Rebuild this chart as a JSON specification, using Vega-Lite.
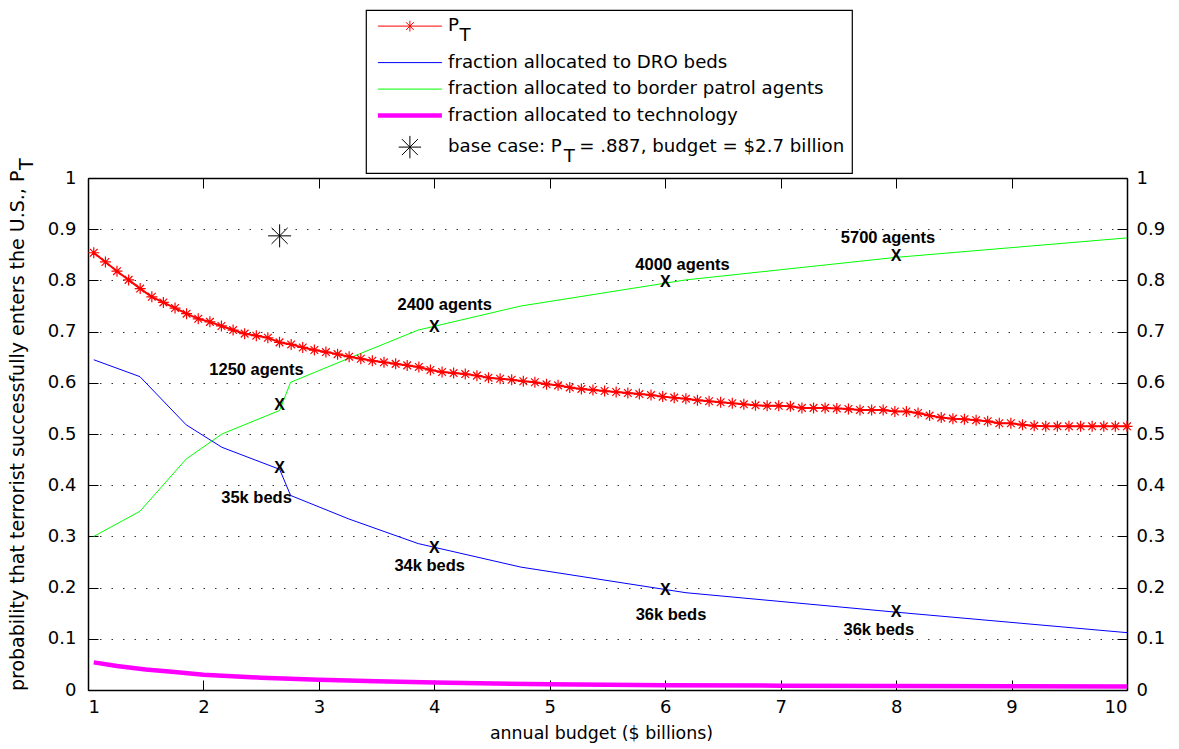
{
  "$schema": "https://vega.github.io/schema/vega-lite/v6.json",
  "width": 1039,
  "height": 512,
  "autosize": {"type": "none"},
  "padding": {"left": 88, "top": 178, "right": 52, "bottom": 59},
  "background": "white",
  "config": {
    "view": {"stroke": null},
    "font": "DejaVu Sans",
    "axis": {
      "labelFont": "DejaVu Sans",
      "labelFontSize": 18,
      "labelColor": "black",
      "titleFont": "DejaVu Sans",
      "titleFontSize": 18,
      "titleFontWeight": "normal",
      "titleColor": "black",
      "domainColor": "black",
      "domainWidth": 1.5,
      "tickColor": "black",
      "tickWidth": 1,
      "tickSize": -10,
      "grid": false
    }
  },
  "datasets": {
    "pt": [
      {"budget": 1.050, "value": 0.854}, {"budget": 1.151, "value": 0.836}, {"budget": 1.251, "value": 0.818},
      {"budget": 1.352, "value": 0.801}, {"budget": 1.452, "value": 0.784}, {"budget": 1.553, "value": 0.768},
      {"budget": 1.653, "value": 0.757}, {"budget": 1.754, "value": 0.746}, {"budget": 1.854, "value": 0.735},
      {"budget": 1.955, "value": 0.725}, {"budget": 2.056, "value": 0.719}, {"budget": 2.156, "value": 0.711},
      {"budget": 2.257, "value": 0.703}, {"budget": 2.357, "value": 0.696}, {"budget": 2.458, "value": 0.692},
      {"budget": 2.558, "value": 0.688}, {"budget": 2.659, "value": 0.679}, {"budget": 2.760, "value": 0.675},
      {"budget": 2.860, "value": 0.669}, {"budget": 2.961, "value": 0.664}, {"budget": 3.061, "value": 0.660},
      {"budget": 3.162, "value": 0.656}, {"budget": 3.262, "value": 0.651}, {"budget": 3.363, "value": 0.647},
      {"budget": 3.463, "value": 0.643}, {"budget": 3.564, "value": 0.640}, {"budget": 3.665, "value": 0.637},
      {"budget": 3.765, "value": 0.634}, {"budget": 3.866, "value": 0.631}, {"budget": 3.966, "value": 0.625},
      {"budget": 4.067, "value": 0.621}, {"budget": 4.167, "value": 0.619}, {"budget": 4.268, "value": 0.617},
      {"budget": 4.369, "value": 0.614}, {"budget": 4.469, "value": 0.610}, {"budget": 4.570, "value": 0.608},
      {"budget": 4.670, "value": 0.606}, {"budget": 4.771, "value": 0.603}, {"budget": 4.871, "value": 0.601},
      {"budget": 4.972, "value": 0.597}, {"budget": 5.072, "value": 0.595}, {"budget": 5.173, "value": 0.591},
      {"budget": 5.274, "value": 0.588}, {"budget": 5.374, "value": 0.586}, {"budget": 5.475, "value": 0.584},
      {"budget": 5.575, "value": 0.582}, {"budget": 5.676, "value": 0.580}, {"budget": 5.776, "value": 0.578},
      {"budget": 5.877, "value": 0.576}, {"budget": 5.978, "value": 0.573}, {"budget": 6.078, "value": 0.571},
      {"budget": 6.179, "value": 0.569}, {"budget": 6.279, "value": 0.566}, {"budget": 6.380, "value": 0.564},
      {"budget": 6.480, "value": 0.562}, {"budget": 6.581, "value": 0.560}, {"budget": 6.681, "value": 0.558},
      {"budget": 6.782, "value": 0.556}, {"budget": 6.883, "value": 0.555}, {"budget": 6.983, "value": 0.555},
      {"budget": 7.084, "value": 0.554}, {"budget": 7.184, "value": 0.551}, {"budget": 7.285, "value": 0.551},
      {"budget": 7.385, "value": 0.551}, {"budget": 7.486, "value": 0.550}, {"budget": 7.587, "value": 0.549},
      {"budget": 7.687, "value": 0.547}, {"budget": 7.788, "value": 0.547}, {"budget": 7.888, "value": 0.547},
      {"budget": 7.989, "value": 0.544}, {"budget": 8.089, "value": 0.544}, {"budget": 8.190, "value": 0.541},
      {"budget": 8.290, "value": 0.536}, {"budget": 8.391, "value": 0.532}, {"budget": 8.492, "value": 0.530},
      {"budget": 8.592, "value": 0.529}, {"budget": 8.693, "value": 0.527}, {"budget": 8.793, "value": 0.525},
      {"budget": 8.894, "value": 0.521}, {"budget": 8.994, "value": 0.521}, {"budget": 9.095, "value": 0.518},
      {"budget": 9.196, "value": 0.516}, {"budget": 9.296, "value": 0.515}, {"budget": 9.397, "value": 0.515},
      {"budget": 9.497, "value": 0.515}, {"budget": 9.598, "value": 0.515}, {"budget": 9.698, "value": 0.515},
      {"budget": 9.799, "value": 0.515}, {"budget": 9.899, "value": 0.515}, {"budget": 10.000, "value": 0.515}
    ],
    "dro": [
      {"budget": 1.05, "value": 0.645}, {"budget": 1.45, "value": 0.612}, {"budget": 1.85, "value": 0.518},
      {"budget": 2.16, "value": 0.474}, {"budget": 2.66, "value": 0.431}, {"budget": 2.755, "value": 0.380},
      {"budget": 3.26, "value": 0.334}, {"budget": 3.86, "value": 0.286}, {"budget": 4.75, "value": 0.240},
      {"budget": 6.18, "value": 0.190}, {"budget": 8.0, "value": 0.152}, {"budget": 10.0, "value": 0.112}
    ],
    "agents": [
      {"budget": 1.05, "value": 0.300}, {"budget": 1.45, "value": 0.349}, {"budget": 1.85, "value": 0.451},
      {"budget": 2.16, "value": 0.500}, {"budget": 2.66, "value": 0.546}, {"budget": 2.755, "value": 0.601},
      {"budget": 3.26, "value": 0.648}, {"budget": 3.86, "value": 0.703}, {"budget": 4.75, "value": 0.750},
      {"budget": 6.18, "value": 0.801}, {"budget": 8.0, "value": 0.845}, {"budget": 10.0, "value": 0.883}
    ],
    "tech": [
      {"budget": 1.05, "value": 0.054}, {"budget": 1.25, "value": 0.047}, {"budget": 1.5, "value": 0.040},
      {"budget": 1.75, "value": 0.035}, {"budget": 2.0, "value": 0.030}, {"budget": 2.5, "value": 0.024},
      {"budget": 3.0, "value": 0.020}, {"budget": 3.5, "value": 0.017}, {"budget": 4.0, "value": 0.0145},
      {"budget": 5.0, "value": 0.011}, {"budget": 6.0, "value": 0.0095}, {"budget": 7.0, "value": 0.0085},
      {"budget": 8.0, "value": 0.0078}, {"budget": 9.0, "value": 0.0072}, {"budget": 10.0, "value": 0.0068}
    ],
    "base": [
      {"budget": 2.66, "value": 0.887}
    ],
    "crosses": [
      {"budget": 2.66, "value": 0.557}, {"budget": 4.0, "value": 0.709}, {"budget": 6.0, "value": 0.796},
      {"budget": 8.0, "value": 0.848}, {"budget": 2.66, "value": 0.433}, {"budget": 4.0, "value": 0.278},
      {"budget": 6.0, "value": 0.196}, {"budget": 8.0, "value": 0.152}
    ],
    "notes": [
      {"budget": 2.46, "value": 0.625, "note": "1250 agents"},
      {"budget": 4.09, "value": 0.752, "note": "2400 agents"},
      {"budget": 6.15, "value": 0.830, "note": "4000 agents"},
      {"budget": 7.93, "value": 0.882, "note": "5700 agents"},
      {"budget": 2.46, "value": 0.375, "note": "35k beds"},
      {"budget": 3.96, "value": 0.242, "note": "34k beds"},
      {"budget": 6.05, "value": 0.147, "note": "36k beds"},
      {"budget": 7.85, "value": 0.118, "note": "36k beds"}
    ]
  },
  "resolve": {"axis": {"x": "independent", "y": "independent"}},
  "layer": [
    {
      "data": {"name": "tech"},
      "mark": {"type": "line", "strokeWidth": 4.5},
      "encoding": {
        "x": {
          "field": "budget", "type": "quantitative",
          "scale": {"domain": [1, 10], "nice": false, "zero": false},
          "axis": {
            "orient": "bottom", "values": [1, 2, 3, 4, 5, 6, 7, 8, 9, 10], "format": "d",
            "title": "annual budget ($ billions)", "titleFontSize": 17.4,
            "labelPadding": 18, "titlePadding": 8, "titleX": 513
          }
        },
        "y": {
          "field": "value", "type": "quantitative",
          "scale": {"domain": [0, 1], "nice": false, "zero": false},
          "axis": {
            "orient": "left", "values": [0, 0.1, 0.2, 0.3, 0.4, 0.5, 0.6, 0.7, 0.8, 0.9, 1], "format": "~g",
            "grid": true, "gridDash": [1.5, 10], "gridColor": "#333", "gridWidth": 1,
            "labelPadding": 22,
            "title": ["probability that terrorist successfully enters the U.S., P\u00a0\u00a0\u200b", "T"],
            "titleFontSize": 19,
            "titleAlign": "right", "titleAngle": -90, "titleBaseline": "alphabetic",
            "titleX": -65, "titleY": -20, "titleLineHeight": 9
          }
        },
        "color": {
          "datum": "tech", "type": "nominal",
          "scale": {
            "domain": ["PT", "DRO", "agents", "tech", "base"],
            "range": ["#ff0000", "#0000ff", "#00ff00", "#ff00ff", "#000000"]
          },
          "legend": {
            "title": null, "orient": "none", "legendX": 278, "legendY": -168,
            "direction": "vertical", "columns": 1,
            "fillColor": "white", "strokeColor": "black", "padding": 7,
            "symbolSize": 4096, "symbolOffset": 27.8, "symbolStrokeWidth": 1, "symbolType": "M-1,0H1",
            "labelFont": "DejaVu Sans", "labelFontSize": 18.2, "labelColor": "black",
            "labelOffset": 29, "labelLimit": 600, "rowPadding": 7.5,
            "labelExpr": "datum.value == 'PT' ? ['P', '\u200b\u00a0\u00a0T'] : datum.value == 'DRO' ? 'fraction allocated to DRO beds' : datum.value == 'agents' ? 'fraction allocated to border patrol agents' : datum.value == 'tech' ? 'fraction allocated to technology' : ['base case: P\u00a0\u00a0 = .887, budget = $2.7 billion', '\u200b\u00a0\u00a0\u00a0\u00a0\u00a0\u00a0\u00a0\u00a0\u00a0\u00a0\u00a0\u00a0\u00a0\u00a0\u00a0\u00a0\u00a0\u00a0\u00a0\u00a0T']",
            "encode": {
              "symbols": {
                "update": {
                  "shape": {"signal": "datum.value == 'PT' ? 'M-1,0H1M0,-0.17V0.17M-0.12,-0.12L0.12,0.12M-0.12,0.12L0.12,-0.12' : datum.value == 'base' ? 'M-0.35,0H0.35M0,-0.35V0.35M-0.25,-0.25L0.25,0.25M-0.25,0.25L0.25,-0.25' : 'M-1,0H1'"},
                  "strokeWidth": {"signal": "datum.value == 'tech' ? 4.5 : 1"},
                  "fill": {"value": "transparent"},
                  "stroke": {"scale": "color", "field": "value"},
                  "opacity": {"value": 1}
                }
              },
              "labels": {"update": {"lineHeight": {"value": 10}}},
              "legend": {"update": {"strokeWidth": {"value": 1.2}}}
            }
          }
        }
      }
    },
    {
      "data": {"name": "dro"},
      "mark": {"type": "line", "strokeWidth": 1},
      "encoding": {
        "x": {
          "field": "budget", "type": "quantitative",
          "axis": {"orient": "top", "values": [1, 2, 3, 4, 5, 6, 7, 8, 9, 10], "labels": false, "title": null}
        },
        "y": {
          "field": "value", "type": "quantitative",
          "axis": {
            "orient": "right", "values": [0, 0.1, 0.2, 0.3, 0.4, 0.5, 0.6, 0.7, 0.8, 0.9, 1], "format": "~g",
            "labelPadding": 19, "title": null
          }
        },
        "color": {"datum": "DRO", "type": "nominal"}
      }
    },
    {
      "data": {"name": "agents"},
      "mark": {"type": "line", "strokeWidth": 1},
      "encoding": {
        "x": {"field": "budget", "type": "quantitative", "axis": null},
        "y": {"field": "value", "type": "quantitative", "axis": null},
        "color": {"datum": "agents", "type": "nominal"}
      }
    },
    {
      "data": {"name": "pt"},
      "mark": {"type": "line", "strokeWidth": 2},
      "encoding": {
        "x": {"field": "budget", "type": "quantitative", "axis": null},
        "y": {"field": "value", "type": "quantitative", "axis": null},
        "color": {"datum": "PT", "type": "nominal"}
      }
    },
    {
      "data": {"name": "pt"},
      "mark": {
        "type": "point", "shape": "M-1,0H1M0,-1V1M-0.7,-0.7L0.7,0.7M-0.7,0.7L0.7,-0.7",
        "size": 121, "filled": false, "strokeWidth": 1.2, "opacity": 1
      },
      "encoding": {
        "x": {"field": "budget", "type": "quantitative", "axis": null},
        "y": {"field": "value", "type": "quantitative", "axis": null},
        "color": {"datum": "PT", "type": "nominal"}
      }
    },
    {
      "data": {"name": "base"},
      "mark": {
        "type": "point", "shape": "M-1,0H1M0,-1V1M-0.7,-0.7L0.7,0.7M-0.7,0.7L0.7,-0.7",
        "size": 529, "filled": false, "strokeWidth": 1, "opacity": 1
      },
      "encoding": {
        "x": {"field": "budget", "type": "quantitative", "axis": null},
        "y": {"field": "value", "type": "quantitative", "axis": null},
        "color": {"datum": "base", "type": "nominal"}
      }
    },
    {
      "data": {"name": "crosses"},
      "mark": {
        "type": "text", "text": "X", "font": "Liberation Sans", "fontWeight": "bold",
        "fontSize": 16, "fill": "black", "baseline": "middle", "align": "center"
      },
      "encoding": {
        "x": {"field": "budget", "type": "quantitative", "axis": null},
        "y": {"field": "value", "type": "quantitative", "axis": null}
      }
    },
    {
      "data": {"name": "notes"},
      "mark": {
        "type": "text", "font": "Liberation Sans", "fontWeight": "bold",
        "fontSize": 16.5, "fill": "black", "baseline": "middle", "align": "center"
      },
      "encoding": {
        "x": {"field": "budget", "type": "quantitative", "axis": null},
        "y": {"field": "value", "type": "quantitative", "axis": null},
        "text": {"field": "note"}
      }
    }
  ]
}
